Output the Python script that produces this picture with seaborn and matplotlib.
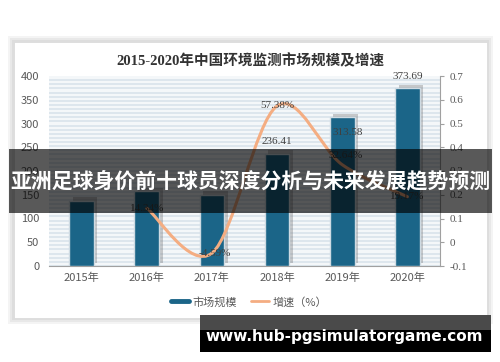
import numpy as np
import pandas as pd
import matplotlib
matplotlib.use("Agg")
import matplotlib.pyplot as plt
import matplotlib.patheffects as pe
from matplotlib.patches import Rectangle, PathPatch
from matplotlib.path import Path
from matplotlib.lines import Line2D
import seaborn as sns

# ---------------- data ----------------
years = ["2015年", "2016年", "2017年", "2018年", "2019年", "2020年"]
market = [137.70, 157.45, 150.22, 236.41, 313.58, 373.69]
growth = [np.nan, 0.1434, -0.0459, 0.5738, 0.3264, 0.1917]
left_ticks = [0, 50, 100, 150, 200, 250, 300, 350, 400]
right_ticks = [-0.1, 0.0, 0.1, 0.2, 0.3, 0.4, 0.5, 0.6, 0.7]
right_tick_labels = ["-0.1", "0", "0.1", "0.2", "0.3", "0.4", "0.5", "0.6", "0.7"]
title = "2015-2020年中国环境监测市场规模及增速"
legend_labels = ["市场规模", "增速（%）"]
banner_text = "亚洲足球身价前十球员深度分析与未来发展趋势预测"
url_text = "www.hub-pgsimulatorgame.com"

# ---------------- style ----------------
sns.set_style("white")
plt.rcParams["font.family"] = ["Noto Sans CJK SC", "DejaVu Sans"]
SERIF = ["Liberation Serif", "Noto Sans CJK SC"]
BAR = "#1b6588"
LINE = "#f4ad82"
GREY = "#595959"

W, H = 500, 362
fig = plt.figure(figsize=(5.0, 3.62), dpi=100)
fig.patch.set_facecolor("white")

def fx(px):
    return px / W

def fy(py):
    return 1 - py / H

def frect(x0, y0, x1, y1, **kw):
    r = Rectangle((fx(x0), fy(y1)), fx(x1) - fx(x0), fy(y0) - fy(y1),
                  transform=fig.transFigure, **kw)
    fig.add_artist(r)
    return r

# card with soft shadow
frect(8, 36, 493, 324, facecolor="#f4f4f4", edgecolor="none", zorder=-10)
frect(10, 38, 491, 322, facecolor="#e8e8e8", edgecolor="none", zorder=-9)
frect(12, 40, 489, 320, facecolor="#dddddd", edgecolor="none", zorder=-9)
frect(14, 42, 487, 318, facecolor="white", edgecolor="#d8d8d8", lw=0.5, zorder=-8)

ax = fig.add_axes([fx(49), fy(266), fx(440) - fx(49), fy(76) - fy(266)])
ax.set_facecolor("#f4f7f9")

# striped background
for yv in np.arange(0, 400, 400 / 46):
    ax.axhline(yv, color="#d6e1ea", lw=1.1, zorder=0)

df = pd.DataFrame({"year": years, "market": market})
sns.barplot(data=df, x="year", y="market", ax=ax, color=BAR, saturation=1,
            width=0.38, edgecolor="#cfdbe3", linewidth=1.0, zorder=3)
for p in ax.patches:
    p.set_path_effects([pe.SimplePatchShadow(offset=(2.5, 2.5), shadow_rgbFace="#707070", alpha=0.35),
                        pe.Normal()])

ax.set_xlim(-0.5, 5.5)
ax.set_ylim(0, 400)
ax.set_yticks(left_ticks)
ax.set_xlabel("")
ax.set_ylabel("")
ax.tick_params(axis="y", length=0, pad=7, labelsize=8, labelcolor=GREY)
ax.tick_params(axis="x", which="major", length=0, pad=5, labelsize=8, labelcolor=GREY)
ax.set_xticks(np.arange(-0.5, 6, 1), minor=True)
ax.tick_params(axis="x", which="minor", length=4, color="#a0a0a0", direction="out")
for s in ["top", "right", "left"]:
    ax.spines[s].set_visible(False)
ax.spines["bottom"].set_color("#a0a0a0")
ax.spines["bottom"].set_linewidth(0.8)

# bar value labels (the first three are hidden under the banner in the reference)
bar_offsets = [None, None, None, (0, 12), (5, -15), (0, 12)]
for i, (v, off) in enumerate(zip(market, bar_offsets)):
    if off is None:
        continue
    ax.annotate(f"{v:.2f}", (i, v), xytext=off, textcoords="offset pixels",
                ha="center", va="center", fontsize=8, color="#404040",
                family=SERIF, zorder=6)

# secondary axis with smoothed growth curve
ax2 = ax.twinx()
ax2.set_ylim(-0.1, 0.7)
ax2.set_yticks(right_ticks)
ax2.set_yticklabels(right_tick_labels, family=SERIF)
ax2.tick_params(axis="y", length=3, color="#a0a0a0", pad=4, labelsize=8, labelcolor=GREY)
for s in ["top", "left", "bottom"]:
    ax2.spines[s].set_visible(False)
ax2.spines["right"].set_color("#a0a0a0")
ax2.spines["right"].set_linewidth(0.8)
ax2.grid(False)

pts = [(i, g) for i, g in enumerate(growth) if not np.isnan(g)]
P = np.array(pts, dtype=float)
verts = [tuple(P[0])]
codes = [Path.MOVETO]
n = len(P)
for k in range(n - 1):
    p0 = P[k - 1] if k > 0 else P[k]
    p1 = P[k]
    p2 = P[k + 1]
    p3 = P[k + 2] if k + 2 < n else P[k + 1]
    c1 = p1 + (p2 - p0) / 6.0
    c2 = p2 - (p3 - p1) / 6.0
    verts += [tuple(c1), tuple(c2), tuple(p2)]
    codes += [Path.CURVE4] * 3
curve = PathPatch(Path(verts, codes), fill=False, edgecolor=LINE, lw=2.2,
                  transform=ax2.transData, zorder=4, capstyle="round")
ax2.add_patch(curve)

line_offsets = [(0, 0), (0, 0), (3, 0), (0, 0), (3, 9), (0, 0)]
for i, g in enumerate(growth):
    if np.isnan(g):
        continue
    ax2.annotate(f"{g * 100:.2f}%", (i, g), xytext=line_offsets[i], textcoords="offset pixels",
                 ha="center", va="center", fontsize=8, color="#404040",
                 family=SERIF, zorder=6)

# title
fig.text(0.5, fy(61), title, ha="center", va="center", fontsize=10.5,
         fontweight="bold", color="#333333", family=SERIF)

# legend
handles = [Line2D([], [], color=BAR, lw=3.5), Line2D([], [], color=LINE, lw=2)]
fig.legend(handles, legend_labels, loc="center", bbox_to_anchor=(fx(249), fy(302)),
           ncol=2, frameon=False, fontsize=8, labelcolor=GREY, handlelength=1.7,
           handletextpad=0.3, columnspacing=1.2)

# overlay banners
frect(9, 149, 492, 213, facecolor="black", alpha=0.65, edgecolor="none", zorder=20)
fig.text(fx(250.5), fy(181), banner_text, ha="center", va="center", fontsize=15,
         fontweight="bold", color="white", zorder=21)

frect(200, 315, 491, 330, facecolor="#4a4a4a", edgecolor="none", zorder=20)
frect(200, 330, 491, 352, facecolor="black", edgecolor="none", zorder=20)
fig.text(fx(344), fy(337), url_text, ha="center", va="center", fontsize=11,
         fontweight="bold", color="white", family=["DejaVu Sans"], zorder=21)

fig.savefig("out.png", dpi=100)
